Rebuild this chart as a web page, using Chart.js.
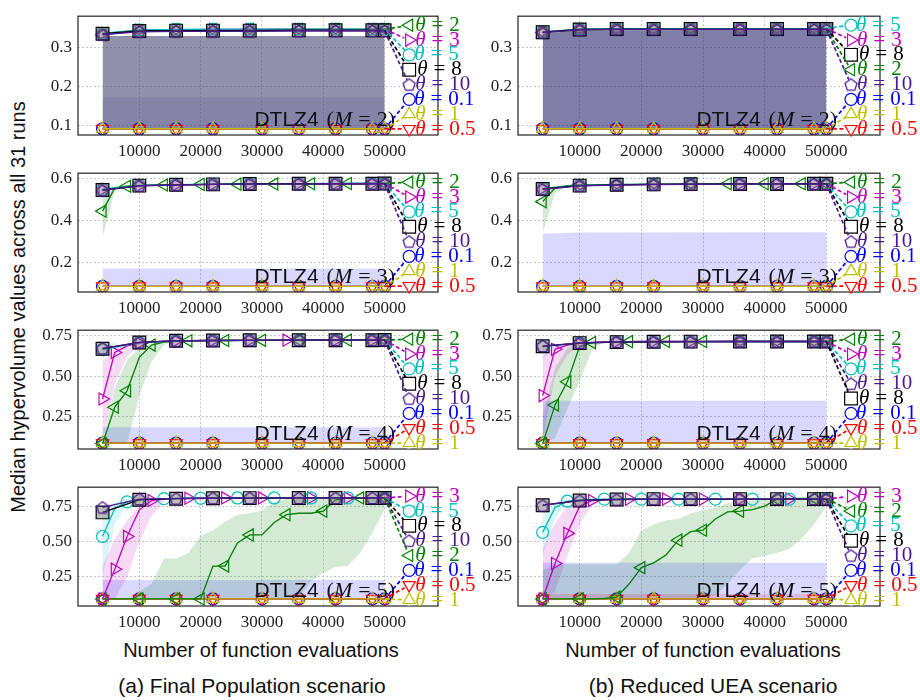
<!DOCTYPE html>
<html>
<head>
<meta charset="utf-8">
<title>DTLZ4 hypervolume</title>
<script src="https://cdn.jsdelivr.net/npm/chart.js@4.4.1/dist/chart.umd.min.js"></script>
<style>
  body { margin: 0; background: #fff; width: 920px; height: 700px; position: relative; overflow: hidden; }
  .panel { position: absolute; }
  .txt { position: absolute; color: #111; font-family: "Liberation Sans", sans-serif; font-size: 20px; white-space: nowrap; transform: translate(-50%, -50%); }
  .cap { font-size: 21px; }
</style>
</head>
<body>
<div class="txt" style="left:18px; top:307px; transform: translate(-50%,-50%) rotate(-90deg);">Median hypervolume values across all 31 runs</div>
<div class="txt" style="left:261px; top:650px;">Number of function evaluations</div>
<div class="txt" style="left:703px; top:650px;">Number of function evaluations</div>
<div class="txt cap" style="left:252px; top:686px;">(a) Final Population scenario</div>
<div class="txt cap" style="left:713px; top:686px;">(b) Reduced UEA scenario</div>
<script>
// ---- data ----
const xA = [4000, 10000, 16000, 22000, 28000, 36000, 42000, 48000, 50000];
const xB = [4000, 10000, 16000, 22000, 30000, 36000, 42000, 48000, 50000];
const xFine = [4000, 6000, 8000, 10000, 12000, 14000, 16000, 18000, 20000, 22000, 24000, 26000,
  28000, 30000, 32000, 34000, 36000, 38000, 40000, 42000, 44000, 46000, 48000, 50000];
const xEnds = [4000, 50000];
const xTicks = [10000, 20000, 30000, 40000, 50000];
const yTicksM2 = [0.1, 0.2, 0.3];
const yTicksM3 = [0.2, 0.4, 0.6];
const yTicksM45 = [0.25, 0.5, 0.75];

// M = 2
const floorM2 = [0.092, 0.092, 0.092, 0.092, 0.092, 0.092, 0.092, 0.092, 0.092];
const fp2T2 = [0.333, 0.344, 0.346, 0.346, 0.347, 0.347, 0.347, 0.347, 0.347];
const fp2T3 = [0.336, 0.345, 0.346, 0.347, 0.347, 0.347, 0.347, 0.347, 0.347];
const fp2T5 = [0.337, 0.346, 0.347, 0.348, 0.348, 0.348, 0.348, 0.348, 0.348];
const fp2T8 = [0.336, 0.343, 0.344, 0.344, 0.344, 0.345, 0.345, 0.345, 0.345];
const fp2T10 = [0.334, 0.341, 0.342, 0.342, 0.342, 0.343, 0.343, 0.343, 0.343];
const fp2BandLo = [0.092, 0.092];
const fp2BandHi = [0.330, 0.330];
const fp2BandLowHi = [0.172, 0.172];

const ue2T5 = [0.341, 0.348, 0.349, 0.349, 0.349, 0.349, 0.349, 0.349, 0.350];
const ue2T3 = [0.340, 0.347, 0.348, 0.348, 0.348, 0.348, 0.348, 0.349, 0.349];
const ue2T8 = [0.340, 0.347, 0.348, 0.348, 0.348, 0.348, 0.348, 0.348, 0.348];
const ue2T2 = [0.339, 0.346, 0.347, 0.347, 0.348, 0.348, 0.348, 0.348, 0.348];
const ue2T10 = [0.339, 0.346, 0.347, 0.347, 0.347, 0.347, 0.347, 0.347, 0.347];
const ue2BandX = [4000, 10000, 50000];
const ue2BandLo = [0.092, 0.092, 0.092];
const ue2BandHi = [0.336, 0.345, 0.346];

// M = 3
const floorM3 = [0.088, 0.088, 0.088, 0.088, 0.088, 0.088, 0.088, 0.088, 0.088];
const fp3T2 = [0.445, 0.555, 0.563, 0.566, 0.568, 0.569, 0.570, 0.571, 0.572, 0.572, 0.573, 0.573,
  0.574, 0.574, 0.574, 0.575, 0.575, 0.575, 0.575, 0.575, 0.576, 0.576, 0.576, 0.576];
const fp3T3 = [0.547, 0.566, 0.570, 0.572, 0.574, 0.575, 0.575, 0.576, 0.576];
const fp3T5 = [0.549, 0.567, 0.571, 0.573, 0.574, 0.575, 0.576, 0.576, 0.576];
const fp3T8 = [0.545, 0.566, 0.570, 0.572, 0.574, 0.575, 0.575, 0.575, 0.576];
const fp3T10 = [0.543, 0.565, 0.569, 0.572, 0.573, 0.574, 0.575, 0.575, 0.575];
const fp3BlueLo = [0.088, 0.088];
const fp3BlueHi = [0.172, 0.172];
const m3GreenX = [4000, 6000, 8000];
const fp3GreenLo = [0.32, 0.54, 0.562];
const fp3GreenHi = [0.55, 0.566, 0.568];

const ue3T2 = [0.490, 0.555, 0.566, 0.569, 0.570, 0.571, 0.572, 0.572, 0.573, 0.573, 0.573, 0.574,
  0.574, 0.574, 0.574, 0.575, 0.575, 0.575, 0.575, 0.575, 0.575, 0.575, 0.575, 0.575];
const ue3T3 = [0.552, 0.566, 0.570, 0.572, 0.573, 0.574, 0.574, 0.575, 0.575];
const ue3T5 = [0.553, 0.567, 0.571, 0.572, 0.573, 0.574, 0.575, 0.575, 0.575];
const ue3T8 = [0.550, 0.566, 0.570, 0.572, 0.573, 0.574, 0.574, 0.575, 0.575];
const ue3T10 = [0.548, 0.565, 0.569, 0.571, 0.572, 0.573, 0.574, 0.574, 0.574];
const ue3BlueX = [4000, 10000, 50000];
const ue3BlueLo = [0.088, 0.088, 0.088];
const ue3BlueHi = [0.338, 0.344, 0.345];
const ue3GreenLo = [0.34, 0.53, 0.56];
const ue3GreenHi = [0.55, 0.566, 0.568];

// M = 4
const floorM4 = [0.090, 0.090, 0.090, 0.090, 0.090, 0.090, 0.090, 0.090, 0.090];
const fp4T3 = [0.360, 0.645, 0.685, 0.702, 0.710, 0.714, 0.716, 0.717, 0.718, 0.718, 0.719, 0.719,
  0.719, 0.720, 0.720, 0.720, 0.720, 0.720, 0.720, 0.720, 0.720, 0.720, 0.720, 0.720];
const fp4T2 = [0.087, 0.310, 0.410, 0.615, 0.690, 0.708, 0.714, 0.716, 0.717, 0.718, 0.718, 0.719,
  0.719, 0.719, 0.720, 0.720, 0.720, 0.720, 0.720, 0.720, 0.720, 0.720, 0.720, 0.720];
const fp4T5 = [0.662, 0.705, 0.715, 0.718, 0.719, 0.720, 0.720, 0.720, 0.720];
const fp4T8 = [0.668, 0.706, 0.716, 0.718, 0.719, 0.720, 0.720, 0.720, 0.721];
const fp4T10 = [0.670, 0.706, 0.716, 0.718, 0.719, 0.720, 0.720, 0.720, 0.720];
const fp4BlueLo = [0.090, 0.090];
const fp4BlueHi = [0.187, 0.187];
const fp4MagX = [4000, 6000, 8000, 10000, 12000];
const fp4MagLo = [0.09, 0.45, 0.62, 0.69, 0.71];
const fp4MagHi = [0.59, 0.67, 0.69, 0.71, 0.72];
const fp4GreenX = [4000, 6000, 8000, 10000, 12000, 14000, 16000];
const fp4GreenLo = [0.087, 0.09, 0.09, 0.38, 0.59, 0.69, 0.715];
const fp4GreenHi = [0.09, 0.43, 0.60, 0.67, 0.70, 0.715, 0.72];
const m4CyanX = [4000, 6000];
const fp4CyanLo = [0.60, 0.69];
const fp4CyanHi = [0.68, 0.71];

const ue4T3 = [0.381, 0.664, 0.690, 0.700, 0.706, 0.709, 0.710, 0.711, 0.712, 0.712, 0.712, 0.712,
  0.712, 0.712, 0.712, 0.712, 0.712, 0.712, 0.712, 0.712, 0.712, 0.712, 0.712, 0.712];
const ue4T2 = [0.087, 0.323, 0.465, 0.683, 0.705, 0.709, 0.710, 0.711, 0.712, 0.712, 0.712, 0.712,
  0.712, 0.712, 0.712, 0.712, 0.712, 0.712, 0.712, 0.712, 0.712, 0.712, 0.712, 0.712];
const ue4T5 = [0.680, 0.702, 0.708, 0.710, 0.711, 0.712, 0.712, 0.712, 0.712];
const ue4T8 = [0.683, 0.702, 0.708, 0.710, 0.711, 0.712, 0.712, 0.712, 0.712];
const ue4T10 = [0.684, 0.703, 0.709, 0.710, 0.711, 0.712, 0.712, 0.712, 0.712];
const ue4BlueLo = [0.090, 0.090];
const ue4BlueHi = [0.350, 0.350];
const ue4MagX = [4000, 6000, 8000, 10000];
const ue4MagLo = [0.09, 0.50, 0.63, 0.69];
const ue4MagHi = [0.62, 0.69, 0.70, 0.71];
const ue4GreenX = [4000, 6000, 8000, 10000, 12000, 14000];
const ue4GreenLo = [0.087, 0.12, 0.30, 0.47, 0.66, 0.71];
const ue4GreenHi = [0.25, 0.55, 0.67, 0.70, 0.71, 0.712];
const ue4CyanLo = [0.60, 0.69];
const ue4CyanHi = [0.68, 0.705];

// M = 5
const floorM5 = [0.095, 0.095, 0.095, 0.095, 0.095, 0.095, 0.095, 0.095, 0.095];
const fp5T3 = [0.096, 0.305, 0.536, 0.724, 0.790, 0.800, 0.805, 0.806, 0.807, 0.807, 0.808, 0.808,
  0.808, 0.808, 0.808, 0.808, 0.808, 0.808, 0.808, 0.808, 0.808, 0.808, 0.808, 0.808];
const fp5T5 = [0.536, 0.734, 0.780, 0.795, 0.800, 0.803, 0.805, 0.806, 0.806, 0.807, 0.807, 0.808,
  0.808, 0.808, 0.808, 0.808, 0.808, 0.808, 0.808, 0.808, 0.808, 0.808, 0.808, 0.808];
const fp5T2 = [0.095, 0.095, 0.095, 0.095, 0.095, 0.095, 0.095, 0.095, 0.095, 0.327, 0.327, 0.490,
  0.547, 0.547, 0.635, 0.690, 0.700, 0.700, 0.715, 0.795, 0.807, 0.808, 0.808, 0.808];
const fp5T8 = [0.706, 0.795, 0.803, 0.806, 0.807, 0.808, 0.808, 0.808, 0.808];
const fp5T10 = [0.741, 0.800, 0.804, 0.806, 0.807, 0.808, 0.808, 0.808, 0.808];
const fp5BlueLo = [0.095, 0.095];
const fp5BlueHi = [0.228, 0.228];
const fp5GreenLo = [0.095, 0.095, 0.095, 0.095, 0.095, 0.095, 0.095, 0.095, 0.095, 0.095, 0.095, 0.095,
  0.095, 0.095, 0.095, 0.095, 0.10, 0.22, 0.28, 0.32, 0.33, 0.42, 0.56, 0.73];
const fp5GreenHi = [0.095, 0.095, 0.095, 0.15, 0.20, 0.38, 0.38, 0.42, 0.54, 0.58, 0.64, 0.69,
  0.70, 0.72, 0.78, 0.80, 0.81, 0.81, 0.81, 0.81, 0.81, 0.81, 0.81, 0.81];
const m5MagX = [4000, 6000, 8000, 10000, 12000, 14000];
const fp5MagLo = [0.095, 0.095, 0.25, 0.50, 0.68, 0.78];
const fp5MagHi = [0.33, 0.52, 0.65, 0.75, 0.80, 0.81];
const fp5CyanX = [4000, 6000, 8000, 10000];
const fp5CyanLo = [0.25, 0.62, 0.76, 0.80];
const fp5CyanHi = [0.73, 0.78, 0.80, 0.805];

const ue5T3 = [0.096, 0.345, 0.558, 0.750, 0.790, 0.797, 0.800, 0.800, 0.800, 0.800, 0.800, 0.800,
  0.800, 0.800, 0.800, 0.800, 0.800, 0.800, 0.800, 0.800, 0.800, 0.800, 0.800, 0.800];
const ue5T5 = [0.565, 0.740, 0.785, 0.795, 0.798, 0.800, 0.800, 0.800, 0.800, 0.800, 0.800, 0.800,
  0.800, 0.800, 0.800, 0.800, 0.800, 0.800, 0.800, 0.800, 0.800, 0.800, 0.800, 0.800];
const ue5T2 = [0.095, 0.095, 0.095, 0.095, 0.095, 0.098, 0.107, 0.200, 0.316, 0.350, 0.405, 0.510,
  0.570, 0.580, 0.660, 0.710, 0.715, 0.725, 0.750, 0.800, 0.805, 0.805, 0.805, 0.805];
const ue5T8 = [0.757, 0.790, 0.797, 0.800, 0.800, 0.800, 0.800, 0.800, 0.800];
const ue5T10 = [0.755, 0.789, 0.796, 0.799, 0.800, 0.800, 0.800, 0.800, 0.800];
const ue5BlueLo = [0.095, 0.095];
const ue5BlueHi = [0.350, 0.350];
const ue5RedHi = [0.130, 0.130];
const ue5GreenLo = [0.095, 0.095, 0.095, 0.095, 0.095, 0.095, 0.095, 0.095, 0.095, 0.095, 0.095, 0.095,
  0.095, 0.095, 0.12, 0.20, 0.30, 0.38, 0.40, 0.42, 0.45, 0.52, 0.62, 0.75];
const ue5GreenHi = [0.30, 0.33, 0.34, 0.34, 0.34, 0.34, 0.34, 0.42, 0.58, 0.62, 0.65, 0.66,
  0.70, 0.72, 0.74, 0.77, 0.78, 0.79, 0.80, 0.80, 0.80, 0.80, 0.80, 0.80];
const ue5MagLo = [0.095, 0.15, 0.40, 0.62, 0.76, 0.79];
const ue5MagHi = [0.45, 0.63, 0.75, 0.79, 0.80, 0.80];
const ue5CyanX = [4000, 6000, 8000];
const ue5CyanLo = [0.40, 0.66, 0.78];
const ue5CyanHi = [0.70, 0.78, 0.80];

// ---- styles ----
const thetaStyle = {
  "0.1": { color: "#0000ff", shape: "circle", r: 6, rot: 0 },
  "0.5": { color: "#ff0000", shape: "triangle", r: 7, rot: 180 },
  "1": { color: "#bfbf00", shape: "triangle", r: 7, rot: 0 },
  "2": { color: "#008000", shape: "triangle", r: 7, rot: 270 },
  "3": { color: "#bf00bf", shape: "triangle", r: 7, rot: 90 },
  "5": { color: "#00bfbf", shape: "circle", r: 6, rot: 0 },
  "8": { color: "#000000", shape: "rect", r: 9, rot: 0 },
  "10": { color: "#4b1a8c", shape: "pentagon", r: 7, rot: 0 },
};
const plotOrder = ["0.1", "0.5", "1", "2", "3", "5", "8", "10"];
const blueFill = "rgba(0,0,255,0.15)";
const greenFill = "rgba(0,128,0,0.17)";
const magFill = "rgba(191,0,191,0.15)";
const cyanFill = "rgba(0,191,191,0.15)";
const redFill = "rgba(255,0,0,0.15)";
const labelX = 54000;
const SERIF = '"Liberation Serif", serif';

const pentagon = document.createElement("canvas");
pentagon.width = 16;
pentagon.height = 16;
(function () {
  const g = pentagon.getContext("2d");
  g.strokeStyle = thetaStyle["10"].color;
  g.lineWidth = 1.3;
  g.beginPath();
  for (let k = 0; k < 5; k++) {
    const a = -Math.PI / 2 + (k * 2 * Math.PI) / 5;
    const px = 8 + 6.3 * Math.cos(a), py = 8.6 + 6.3 * Math.sin(a);
    k ? g.lineTo(px, py) : g.moveTo(px, py);
  }
  g.closePath();
  g.stroke();
})();

// ---- panels ----
const panels = [
  { col: 0, row: 0, m: 2, yMin: 0.076, yMax: 0.381, yTicks: yTicksM2, dec: 1,
    series: [["0.1", xB, floorM2], ["0.5", xB, floorM2], ["1", xB, floorM2], ["2", xA, fp2T2],
      ["3", xA, fp2T3], ["5", xA, fp2T5], ["8", xA, fp2T8], ["10", xA, fp2T10]],
    bands: [[xEnds, fp2BandLo, fp2BandHi, "rgba(70,70,115,0.6)"], [xEnds, fp2BandLo, fp2BandLowHi, "rgba(0,0,200,0.12)"]],
    labels: ["2", "3", "5", "8", "10", "0.1", "1", "0.5"] },
  { col: 1, row: 0, m: 2, yMin: 0.076, yMax: 0.381, yTicks: yTicksM2, dec: 1,
    series: [["0.1", xB, floorM2], ["0.5", xB, floorM2], ["1", xB, floorM2], ["2", xA, ue2T2],
      ["3", xA, ue2T3], ["5", xA, ue2T5], ["8", xA, ue2T8], ["10", xA, ue2T10]],
    bands: [[ue2BandX, ue2BandLo, ue2BandHi, "rgba(40,40,110,0.6)"]],
    labels: ["5", "3", "8", "2", "10", "0.1", "1", "0.5"] },
  { col: 0, row: 1, m: 3, yMin: 0.061, yMax: 0.625, yTicks: yTicksM3, dec: 1,
    series: [["0.1", xB, floorM3], ["0.5", xB, floorM3], ["1", xB, floorM3], ["2", xFine, fp3T2],
      ["3", xA, fp3T3], ["5", xA, fp3T5], ["8", xA, fp3T8], ["10", xA, fp3T10]],
    bands: [[xEnds, fp3BlueLo, fp3BlueHi, blueFill], [m3GreenX, fp3GreenLo, fp3GreenHi, greenFill]],
    labels: ["2", "3", "5", "8", "10", "0.1", "1", "0.5"] },
  { col: 1, row: 1, m: 3, yMin: 0.061, yMax: 0.625, yTicks: yTicksM3, dec: 1,
    series: [["0.1", xB, floorM3], ["0.5", xB, floorM3], ["1", xB, floorM3], ["2", xFine, ue3T2],
      ["3", xA, ue3T3], ["5", xA, ue3T5], ["8", xA, ue3T8], ["10", xA, ue3T10]],
    bands: [[ue3BlueX, ue3BlueLo, ue3BlueHi, blueFill], [m3GreenX, ue3GreenLo, ue3GreenHi, greenFill]],
    labels: ["2", "3", "5", "8", "10", "0.1", "1", "0.5"] },
  { col: 0, row: 2, m: 4, yMin: 0.054, yMax: 0.781, yTicks: yTicksM45, dec: 2,
    series: [["0.1", xB, floorM4], ["0.5", xB, floorM4], ["1", xB, floorM4], ["2", xFine, fp4T2],
      ["3", xFine, fp4T3], ["5", xA, fp4T5], ["8", xA, fp4T8], ["10", xA, fp4T10]],
    bands: [[xEnds, fp4BlueLo, fp4BlueHi, blueFill], [fp4MagX, fp4MagLo, fp4MagHi, magFill],
      [fp4GreenX, fp4GreenLo, fp4GreenHi, greenFill], [m4CyanX, fp4CyanLo, fp4CyanHi, cyanFill]],
    labels: ["2", "3", "5", "8", "10", "0.1", "0.5", "1"] },
  { col: 1, row: 2, m: 4, yMin: 0.054, yMax: 0.781, yTicks: yTicksM45, dec: 2,
    series: [["0.1", xB, floorM4], ["0.5", xB, floorM4], ["1", xB, floorM4], ["2", xFine, ue4T2],
      ["3", xFine, ue4T3], ["5", xA, ue4T5], ["8", xA, ue4T8], ["10", xA, ue4T10]],
    bands: [[xEnds, ue4BlueLo, ue4BlueHi, blueFill], [ue4MagX, ue4MagLo, ue4MagHi, magFill],
      [ue4GreenX, ue4GreenLo, ue4GreenHi, greenFill], [m4CyanX, ue4CyanLo, ue4CyanHi, cyanFill]],
    labels: ["2", "3", "5", "10", "8", "0.1", "0.5", "1"] },
  { col: 0, row: 3, m: 5, yMin: 0.045, yMax: 0.884, yTicks: yTicksM45, dec: 2,
    series: [["0.1", xB, floorM5], ["0.5", xB, floorM5], ["1", xB, floorM5], ["2", xFine, fp5T2],
      ["3", xFine, fp5T3], ["5", xFine, fp5T5], ["8", xA, fp5T8], ["10", xA, fp5T10]],
    bands: [[xEnds, fp5BlueLo, fp5BlueHi, blueFill], [xFine, fp5GreenLo, fp5GreenHi, greenFill],
      [m5MagX, fp5MagLo, fp5MagHi, magFill], [fp5CyanX, fp5CyanLo, fp5CyanHi, cyanFill]],
    labels: ["3", "5", "8", "10", "2", "0.1", "0.5", "1"] },
  { col: 1, row: 3, m: 5, yMin: 0.045, yMax: 0.884, yTicks: yTicksM45, dec: 2,
    series: [["0.1", xB, floorM5], ["0.5", xB, floorM5], ["1", xB, floorM5], ["2", xFine, ue5T2],
      ["3", xFine, ue5T3], ["5", xFine, ue5T5], ["8", xA, ue5T8], ["10", xA, ue5T10]],
    bands: [[xEnds, ue5BlueLo, ue5BlueHi, blueFill], [xEnds, ue5BlueLo, ue5RedHi, redFill],
      [xFine, ue5GreenLo, ue5GreenHi, greenFill], [m5MagX, ue5MagLo, ue5MagHi, magFill],
      [ue5CyanX, ue5CyanLo, ue5CyanHi, cyanFill]],
    labels: ["3", "2", "5", "8", "10", "0.1", "0.5", "1"] },
];

function pts(xs, ys) {
  return xs.map((x, i) => ({ x: x, y: ys[i] }));
}

// markers spaced evenly along the drawn path (like matplotlib markevery=0.1)
function markSet(chart, data) {
  const sx = chart.scales.x, sy = chart.scales.y, a = chart.chartArea;
  if (!a || !sx || !sy) return null;
  const step = 0.1 * Math.hypot(a.right - a.left, a.bottom - a.top);
  const cum = [];
  let d = 0, prev = null;
  data.forEach((p) => {
    const q = [sx.getPixelForValue(p.x), sy.getPixelForValue(p.y)];
    if (prev) d += Math.hypot(q[0] - prev[0], q[1] - prev[1]);
    cum.push(d);
    prev = q;
  });
  const set = new Set([data.length - 1]);
  for (let t = 0; t <= d; t += step) {
    let best = 0;
    cum.forEach((v, i) => { if (Math.abs(v - t) < Math.abs(cum[best] - t)) best = i; });
    set.add(best);
  }
  return set;
}

function drawParts(ctx, parts, x, y) {
  let cx = x;
  parts.forEach(([s, f, gap]) => {
    ctx.font = f;
    ctx.fillText(s, cx, y);
    cx += ctx.measureText(s).width + (gap || 0);
  });
}
function partsWidth(ctx, parts) {
  let w = 0;
  parts.forEach(([s, f, gap]) => { ctx.font = f; w += ctx.measureText(s).width + (gap || 0); });
  return w;
}

const decor = {
  id: "decor",
  afterDatasetsDraw(chart, args, opts) {
    const p = opts.panel;
    const ctx = chart.ctx, a = chart.chartArea;
    ctx.save();
    // frame
    ctx.strokeStyle = "#333";
    ctx.lineWidth = 1.3;
    ctx.strokeRect(a.left, a.top, a.right - a.left, a.bottom - a.top);

    // panel title
    const tf = "22px " + SERIF;
    const title = [["DTLZ4", '21px "Liberation Sans", sans-serif', 8], ["(", tf], ["M", "italic " + tf, 6],
      ["=", tf, 6], [String(p.m), tf], [")", tf]];
    ctx.fillStyle = "#111";
    ctx.textBaseline = "alphabetic";
    drawParts(ctx, title, a.right - 43 - partsWidth(ctx, title), a.bottom - 9);

    // leader lines and theta labels
    const lx = chart.scales.x.getPixelForValue(labelX);
    const n = p.labels.length;
    p.labels.forEach((t, i) => {
      const st = thetaStyle[t];
      const ly = a.top + 9 + (i * (a.bottom - a.top - 15)) / (n - 1);
      const di = chart.data.datasets.findIndex((d) => d.theta === t);
      const meta = chart.getDatasetMeta(di);
      const last = meta.data[meta.data.length - 1];
      ctx.strokeStyle = st.color;
      ctx.lineWidth = 1.7;
      ctx.setLineDash([4, 2.5]);
      ctx.beginPath();
      ctx.moveTo(last.x, last.y);
      ctx.lineTo(lx, ly);
      ctx.stroke();
      ctx.setLineDash([]);
      ctx.fillStyle = "#fff";
      ctx.beginPath();
      ctx.arc(lx, ly, st.r - 1.5, 0, Math.PI * 2);
      ctx.fill();
      ctx.lineWidth = 1.2;
      Chart.helpers.drawPoint(ctx, {
        pointStyle: st.shape === "pentagon" ? pentagon : st.shape,
        rotation: st.rot, radius: st.r, borderWidth: 1.2,
      }, lx, ly);
      ctx.fillStyle = st.color;
      ctx.textBaseline = "middle";
      const f = "21px " + SERIF;
      drawParts(ctx, [["θ", "italic " + f, 6], ["=", f, 6], [t, f]], lx + st.r - 1, ly);
    });
    ctx.restore();
  },
};

const tops = [8, 165, 322, 479];

panels.forEach((p) => {
  const left = p.col === 0 ? 0 : 440;
  const width = p.col === 0 ? 478 : 480;
  const wrap = document.createElement("div");
  wrap.className = "panel";
  wrap.style.left = left + "px";
  wrap.style.top = tops[p.row] - 8 + "px";
  const cv = document.createElement("canvas");
  cv.width = width;
  cv.height = 165;
  wrap.appendChild(cv);
  document.body.appendChild(wrap);

  const datasets = [];
  p.bands.forEach(([xs, lo, hi, color]) => {
    datasets.push({ data: pts(xs, lo), borderWidth: 0, pointRadius: 0, fill: false, order: 1000 });
    datasets.push({ data: pts(xs, hi), borderWidth: 0, pointRadius: 0, fill: "-1", backgroundColor: color, order: 1000 });
  });
  p.series.forEach(([t, xs, ys]) => {
    const st = thetaStyle[t];
    const fine = xs === xFine;
    datasets.push({
      theta: t,
      data: pts(xs, ys),
      borderColor: st.color,
      borderWidth: 1.3,
      fill: false,
      tension: 0,
      pointStyle: st.shape === "pentagon" ? pentagon : st.shape,
      pointRotation: st.rot,
      pointRadius: fine ? (c) => {
        const s = markSet(c.chart, c.dataset.data);
        return !s || s.has(c.dataIndex) ? st.r : 0;
      } : st.r,
      pointBorderColor: st.color,
      pointBackgroundColor: t === "8" ? "rgba(110,110,110,0.45)" : "rgba(255,255,255,0)",
      pointBorderWidth: 1.2,
      order: 100 - plotOrder.indexOf(t),
    });
  });

  const tickFont = { family: "Liberation Serif", size: 17 };
  new Chart(cv, {
    type: "line",
    data: { datasets },
    options: {
      responsive: false,
      animation: false,
      devicePixelRatio: 1,
      events: [],
      layout: { padding: { left: 0, right: 40, top: 8, bottom: 0 } },
      plugins: { legend: { display: false }, tooltip: { enabled: false }, decor: { panel: p } },
      scales: {
        x: {
          type: "linear", min: 0, max: 58700,
          afterBuildTicks: (s) => { s.ticks = xTicks.map((v) => ({ value: v })); },
          ticks: {
            autoSkip: false, maxRotation: 0, padding: 6, color: "#222", font: tickFont,
            callback: (v) => String(v),
          },
          grid: { color: "#b8b8b8", lineWidth: 0.8, drawTicks: false },
          border: { display: false, dash: [2, 2] },
          afterFit: (s) => { s.height = 30; },
        },
        y: {
          type: "linear", min: p.yMin, max: p.yMax,
          afterBuildTicks: (s) => { s.ticks = p.yTicks.map((v) => ({ value: v })); },
          ticks: {
            padding: 6, color: "#222", font: tickFont,
            callback: (v) => Number(v).toFixed(p.dec),
          },
          grid: { color: "#b8b8b8", lineWidth: 0.8, drawTicks: false },
          border: { display: false, dash: [2, 2] },
          afterFit: (s) => { s.width = 78; },
        },
      },
    },
    plugins: [decor],
  });
});
</script>
</body>
</html>
